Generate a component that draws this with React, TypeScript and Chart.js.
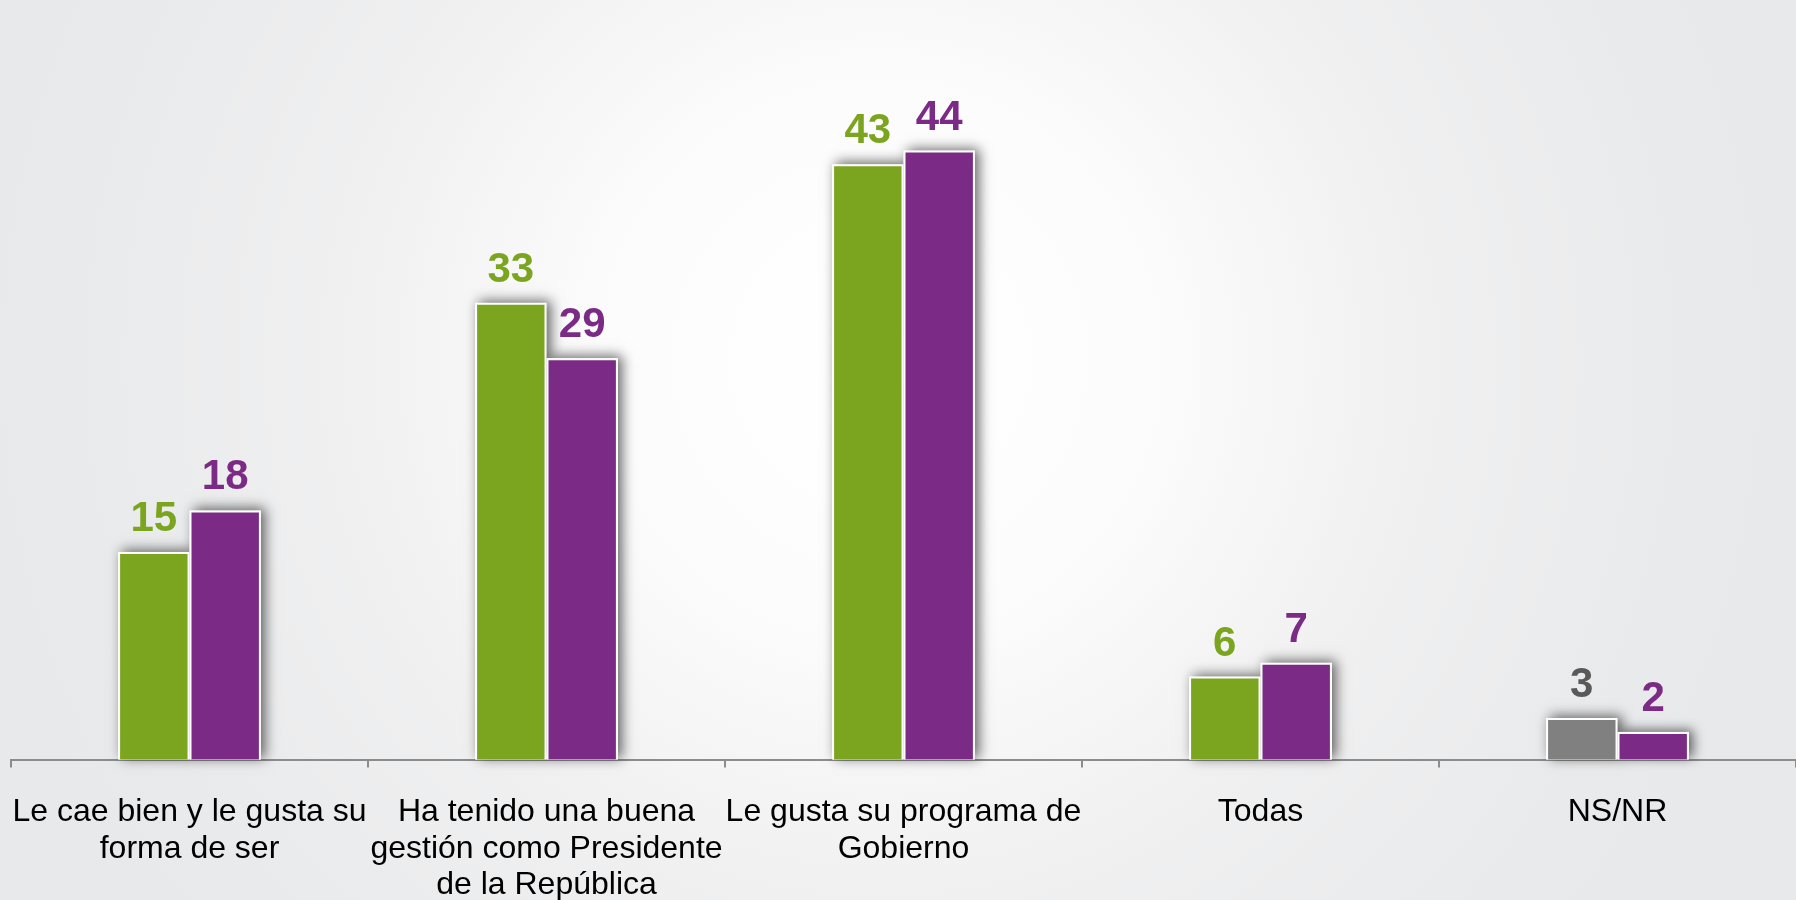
import React, { useEffect, useRef } from "react";
import { Chart, registerables } from "chart.js";

Chart.register(...registerables);

const categories: string[][] = [
  ["Le cae bien y le gusta su", "forma de ser"],
  ["Ha tenido una buena", "gestión como Presidente", "de la República"],
  ["Le gusta su programa de", "Gobierno"],
  ["Todas"],
  ["NS/NR"],
];
const seriesA: number[] = [15, 33, 43, 6, 3];
const seriesB: number[] = [18, 29, 44, 7, 2];

const GREEN = "#7ba51f";
const PURPLE = "#7b2b85";
const GRAY = "#808080";
const GRAY_LABEL = "#595959";

const colorsA = [GREEN, GREEN, GREEN, GREEN, GRAY];
const labelColorsA = [GREEN, GREEN, GREEN, GREEN, GRAY_LABEL];
const colorsB = [PURPLE, PURPLE, PURPLE, PURPLE, PURPLE];

const shadowPlugin = {
  id: "barShadow",
  beforeDatasetsDraw(chart: any) {
    const ctx = chart.ctx;
    ctx.save();
    ctx.shadowColor = "rgba(0,0,0,0.6)";
    ctx.shadowBlur = 12;
    ctx.shadowOffsetX = 4;
    ctx.shadowOffsetY = -2;
    ctx.fillStyle = "#ffffff";
    chart.data.datasets.forEach((_ds: any, di: number) => {
      const meta = chart.getDatasetMeta(di);
      meta.data.forEach((bar: any) => {
        const w = bar.width;
        ctx.fillRect(bar.x - w / 2, bar.y, w, bar.base - bar.y);
      });
    });
    ctx.restore();
  },
};

const labelPlugin = {
  id: "valueLabels",
  afterDatasetsDraw(chart: any) {
    const ctx = chart.ctx;
    ctx.save();
    ctx.font = "bold 42px 'Liberation Sans', Arial, sans-serif";
    ctx.textAlign = "center";
    ctx.textBaseline = "alphabetic";
    chart.data.datasets.forEach((ds: any, di: number) => {
      const meta = chart.getDatasetMeta(di);
      meta.data.forEach((bar: any, i: number) => {
        ctx.fillStyle = di === 0 ? labelColorsA[i] : PURPLE;
        ctx.fillText(String(ds.data[i]), bar.x, bar.y - 21);
      });
    });
    ctx.restore();
  },
};

const backgroundPlugin = {
  id: "bg",
  beforeDraw(chart: any) {
    const ctx = chart.ctx;
    const w = chart.width;
    const h = chart.height;
    ctx.save();
    const g = ctx.createRadialGradient(880, 360, 0, 880, 360, 900);
    g.addColorStop(0, "#ffffff");
    g.addColorStop(0.3, "#fcfcfc");
    g.addColorStop(0.6, "#f0f0f1");
    g.addColorStop(0.85, "#eaebec");
    g.addColorStop(1, "#e8e9eb");
    ctx.fillStyle = g;
    ctx.fillRect(0, 0, w, h);
    ctx.restore();
  },
};

export default function App() {
  const ref = useRef<HTMLCanvasElement | null>(null);
  useEffect(() => {
    if (!ref.current) return;
    const chart = new Chart(ref.current, {
      type: "bar",
      data: {
        labels: categories,
        datasets: [
          {
            data: seriesA,
            backgroundColor: colorsA,
            borderColor: "#ffffff",
            borderWidth: 2,
            categoryPercentage: 0.4,
            barPercentage: 1,
            clip: false,
          } as any,
          {
            data: seriesB,
            backgroundColor: colorsB,
            borderColor: "#ffffff",
            borderWidth: 2,
            categoryPercentage: 0.4,
            barPercentage: 1,
            clip: false,
          } as any,
        ],
      },
      options: {
        animation: false,
        responsive: true,
        maintainAspectRatio: false,
        layout: { padding: { left: 11, right: 0, top: 1, bottom: -30 } },
        plugins: {
          legend: { display: false },
          tooltip: { enabled: false },
        },
        scales: {
          x: {
            afterFit(scale: any) {
              scale.paddingLeft = 0;
              scale.paddingRight = 0;
            },
            grid: {
              offset: true,
              drawOnChartArea: false,
              drawTicks: true,
              tickLength: 8,
              color: "#8c8c8c",
              lineWidth: 2,
            },
            border: { display: true, color: "#8c8c8c", width: 2 },
            ticks: {
              maxRotation: 0,
              minRotation: 0,
              autoSkip: false,
              padding: 26,
              color: "#000000",
              font: { family: "'Liberation Sans', Arial, sans-serif", size: 32, lineHeight: 1.15 },
            },
          },
          y: {
            display: false,
            min: 0,
            max: 54.8,
          },
        },
      },
      plugins: [backgroundPlugin, shadowPlugin, labelPlugin],
    });
    return () => chart.destroy();
  }, []);
  return (
    <div style={{ position: "absolute", left: 0, top: 0, width: 1796, height: 900 }}>
      <canvas ref={ref} />
    </div>
  );
}
